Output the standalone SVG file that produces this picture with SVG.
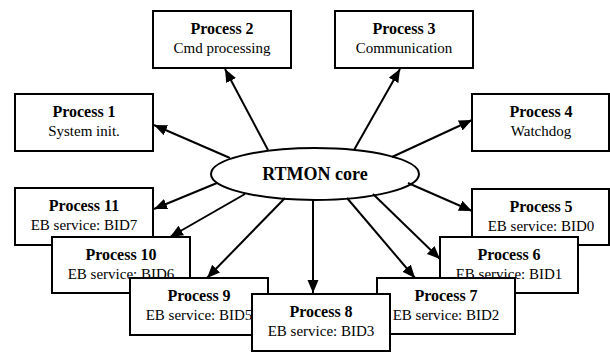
<svg xmlns="http://www.w3.org/2000/svg" width="610" height="352" viewBox="0 0 610 352">
<defs>
<marker id="ah" markerUnits="userSpaceOnUse" markerWidth="14" markerHeight="12" refX="13" refY="5.5" orient="auto">
<path d="M0,0 L13,5.5 L0,11 z" fill="#000"/>
</marker>
</defs>
<rect width="610" height="352" fill="#fff"/>
<g id="p1"><rect x="15" y="94" width="138" height="57" fill="#fff" stroke="#000" stroke-width="2"/><text x="84" y="117" style="font-family:'Times New Roman',serif;font-weight:bold;font-size:16px" text-anchor="middle">Process 1</text><text x="84" y="136" style="font-family:'Times New Roman',serif;font-size:15px" text-anchor="middle">System init.</text></g>
<g id="p2"><rect x="153" y="11" width="138" height="57" fill="#fff" stroke="#000" stroke-width="2"/><text x="222" y="34" style="font-family:'Times New Roman',serif;font-weight:bold;font-size:16px" text-anchor="middle">Process 2</text><text x="222" y="53" style="font-family:'Times New Roman',serif;font-size:15px" text-anchor="middle">Cmd processing</text></g>
<g id="p3"><rect x="335" y="11" width="138" height="57" fill="#fff" stroke="#000" stroke-width="2"/><text x="404" y="34" style="font-family:'Times New Roman',serif;font-weight:bold;font-size:16px" text-anchor="middle">Process 3</text><text x="404" y="53" style="font-family:'Times New Roman',serif;font-size:15px" text-anchor="middle">Communication</text></g>
<g id="p4"><rect x="472" y="94" width="137" height="57" fill="#fff" stroke="#000" stroke-width="2"/><text x="541" y="117" style="font-family:'Times New Roman',serif;font-weight:bold;font-size:16px" text-anchor="middle">Process 4</text><text x="541" y="136" style="font-family:'Times New Roman',serif;font-size:15px" text-anchor="middle">Watchdog</text></g>
<g id="p11"><rect x="15" y="188" width="138" height="57" fill="#fff" stroke="#000" stroke-width="2"/><text x="84" y="211" style="font-family:'Times New Roman',serif;font-weight:bold;font-size:16px" text-anchor="middle">Process 11</text><text x="84" y="230" style="font-family:'Times New Roman',serif;font-size:15px" text-anchor="middle">EB service: BID7</text></g>
<g id="p10"><rect x="52" y="237" width="138" height="56" fill="#fff" stroke="#000" stroke-width="2"/><text x="121" y="260" style="font-family:'Times New Roman',serif;font-weight:bold;font-size:16px" text-anchor="middle">Process 10</text><text x="121" y="279" style="font-family:'Times New Roman',serif;font-size:15px" text-anchor="middle">EB service: BID6</text></g>
<g id="p9"><rect x="130" y="278" width="138" height="57" fill="#fff" stroke="#000" stroke-width="2"/><text x="199" y="301" style="font-family:'Times New Roman',serif;font-weight:bold;font-size:16px" text-anchor="middle">Process 9</text><text x="199" y="320" style="font-family:'Times New Roman',serif;font-size:15px" text-anchor="middle">EB service: BID5</text></g>
<g id="p5"><rect x="472" y="189" width="137" height="56" fill="#fff" stroke="#000" stroke-width="2"/><text x="541" y="212" style="font-family:'Times New Roman',serif;font-weight:bold;font-size:16px" text-anchor="middle">Process 5</text><text x="541" y="231" style="font-family:'Times New Roman',serif;font-size:15px" text-anchor="middle">EB service: BID0</text></g>
<g id="p6"><rect x="440" y="237" width="138" height="56" fill="#fff" stroke="#000" stroke-width="2"/><text x="509" y="260" style="font-family:'Times New Roman',serif;font-weight:bold;font-size:16px" text-anchor="middle">Process 6</text><text x="509" y="279" style="font-family:'Times New Roman',serif;font-size:15px" text-anchor="middle">EB service: BID1</text></g>
<g id="p7"><rect x="377" y="278" width="138" height="56" fill="#fff" stroke="#000" stroke-width="2"/><text x="446" y="301" style="font-family:'Times New Roman',serif;font-weight:bold;font-size:16px" text-anchor="middle">Process 7</text><text x="446" y="320" style="font-family:'Times New Roman',serif;font-size:15px" text-anchor="middle">EB service: BID2</text></g>
<g id="p8"><rect x="252" y="294" width="138" height="57" fill="#fff" stroke="#000" stroke-width="2"/><text x="321" y="317" style="font-family:'Times New Roman',serif;font-weight:bold;font-size:16px" text-anchor="middle">Process 8</text><text x="321" y="336" style="font-family:'Times New Roman',serif;font-size:15px" text-anchor="middle">EB service: BID3</text></g>
<g id="core"><ellipse cx="315" cy="174" rx="104" ry="26" fill="#fff" stroke="#000" stroke-width="2"/><text x="315" y="180" style="font-family:'Times New Roman',serif;font-weight:bold;font-size:18px" text-anchor="middle">RTMON core</text></g>
<g id="connectors" stroke="#000" stroke-width="2" fill="none">
<line x1="230" y1="158" x2="154" y2="125" marker-end="url(#ah)"/>
<line x1="268" y1="150" x2="225" y2="69" marker-end="url(#ah)"/>
<line x1="354" y1="150" x2="400" y2="69" marker-end="url(#ah)"/>
<line x1="392" y1="157" x2="472" y2="120" marker-end="url(#ah)"/>
<line x1="408" y1="183" x2="472" y2="211" marker-end="url(#ah)"/>
<line x1="373" y1="194" x2="440" y2="259" marker-end="url(#ah)"/>
<line x1="347" y1="198" x2="415" y2="278" marker-end="url(#ah)"/>
<line x1="313" y1="200" x2="313" y2="293" marker-end="url(#ah)"/>
<line x1="285" y1="198" x2="207" y2="278" marker-end="url(#ah)"/>
<line x1="245" y1="194" x2="170" y2="237" marker-end="url(#ah)"/>
<line x1="217" y1="183" x2="154" y2="209" marker-end="url(#ah)"/>
</g>
</svg>
